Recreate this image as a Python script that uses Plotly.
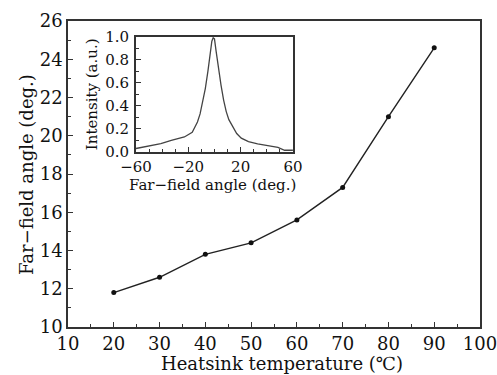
import plotly.graph_objects as go

# Main series
temperature = [20, 30, 40, 50, 60, 70, 80, 90]
far_field_angle = [11.8, 12.6, 13.8, 14.4, 15.6, 17.3, 21.0, 24.6]

# Inset far-field profile
inset_angle = [-60, -50, -41, -33, -23, -17, -13, -11, -9, -7, -5, -3.5, -2, -1, 0, 1.3, 3, 5, 7, 9, 11, 14, 17, 20.5, 26, 33, 41, 48.5, 53.6, 60]
inset_intensity = [0.03, 0.05, 0.073, 0.10, 0.13, 0.17, 0.26, 0.33, 0.43, 0.55, 0.70, 0.84, 0.96, 0.99, 0.98, 0.87, 0.72, 0.58, 0.45, 0.35, 0.28, 0.22, 0.16, 0.12, 0.09, 0.07, 0.055, 0.04, 0.015, 0.015]

main_xtitle = "Heatsink temperature (℃)"
main_ytitle = "Far−field angle (deg.)"
inset_xtitle = "Far−field angle (deg.)"
inset_ytitle = "Intensity (a.u.)"

FONT = "DejaVu Serif"
INK = "#111"

fig = go.Figure()
fig.add_trace(go.Scatter(
    x=temperature, y=far_field_angle, mode="lines+markers",
    line=dict(color="#222", width=1.4),
    marker=dict(color="#111", size=5),
    showlegend=False, xaxis="x", yaxis="y"))
fig.add_trace(go.Scatter(
    x=inset_angle, y=inset_intensity, mode="lines",
    line=dict(color="#444", width=1.3),
    showlegend=False, xaxis="x2", yaxis="y2"))

axis_common = dict(
    showgrid=False, zeroline=False, showline=True, mirror=True,
    linecolor="#333", linewidth=1.6, ticks="inside", tickcolor="#333",
    ticklen=5, tickwidth=1.2, automargin=False, ticklabeloverflow="allow",
)

fig.update_layout(
    width=497, height=375,
    margin=dict(l=68, r=17, t=21, b=48),
    paper_bgcolor="white", plot_bgcolor="white",
    font=dict(family=FONT, size=18, color=INK),
    xaxis=dict(
        **axis_common, range=[10, 100], dtick=10, tick0=10,
        minor=dict(dtick=5, ticks="inside", ticklen=3, tickcolor="#333"),
        tickfont=dict(size=18),
    ),
    yaxis=dict(
        **axis_common, range=[10, 26], dtick=2, tick0=10,
        minor=dict(dtick=1, ticks="inside", ticklen=3, tickcolor="#333"),
        tickfont=dict(size=18),
    ),
    xaxis2=dict(
        **axis_common, domain=[0.165, 0.546], anchor="y2",
        range=[-60, 60], dtick=40, tick0=-60,
        minor=dict(dtick=10, ticks="inside", ticklen=3, tickcolor="#333"),
        tickfont=dict(size=15), ticklabelstandoff=0,
    ),
    yaxis2=dict(
        **axis_common, domain=[0.572, 0.949], anchor="x2",
        range=[0, 1.0], dtick=0.2, tick0=0, tickformat=".1f",
        minor=dict(dtick=0.1, ticks="inside", ticklen=3, tickcolor="#333"),
        tickfont=dict(size=15), ticklabelstandoff=2,
    ),
    annotations=[
        dict(text=main_xtitle, xref="paper", yref="paper", x=0.52, y=-0.12,
             xanchor="center", yanchor="middle", showarrow=False, font=dict(size=18)),
        dict(text=main_ytitle, xref="paper", yref="paper", x=-0.102, y=0.5,
             xanchor="center", yanchor="middle", textangle=-90, showarrow=False, font=dict(size=18)),
        dict(text=inset_xtitle, xref="paper", yref="paper", x=0.35, y=0.465,
             xanchor="center", yanchor="middle", showarrow=False, font=dict(size=15)),
        dict(text=inset_ytitle, xref="paper", yref="paper", x=0.06, y=0.76,
             xanchor="center", yanchor="middle", textangle=-90, showarrow=False, font=dict(size=15)),
    ],
)

fig.write_html("out.html", config={"displayModeBar": False},
               post_script="document.body.style.margin='0';document.body.style.overflow='hidden';")
